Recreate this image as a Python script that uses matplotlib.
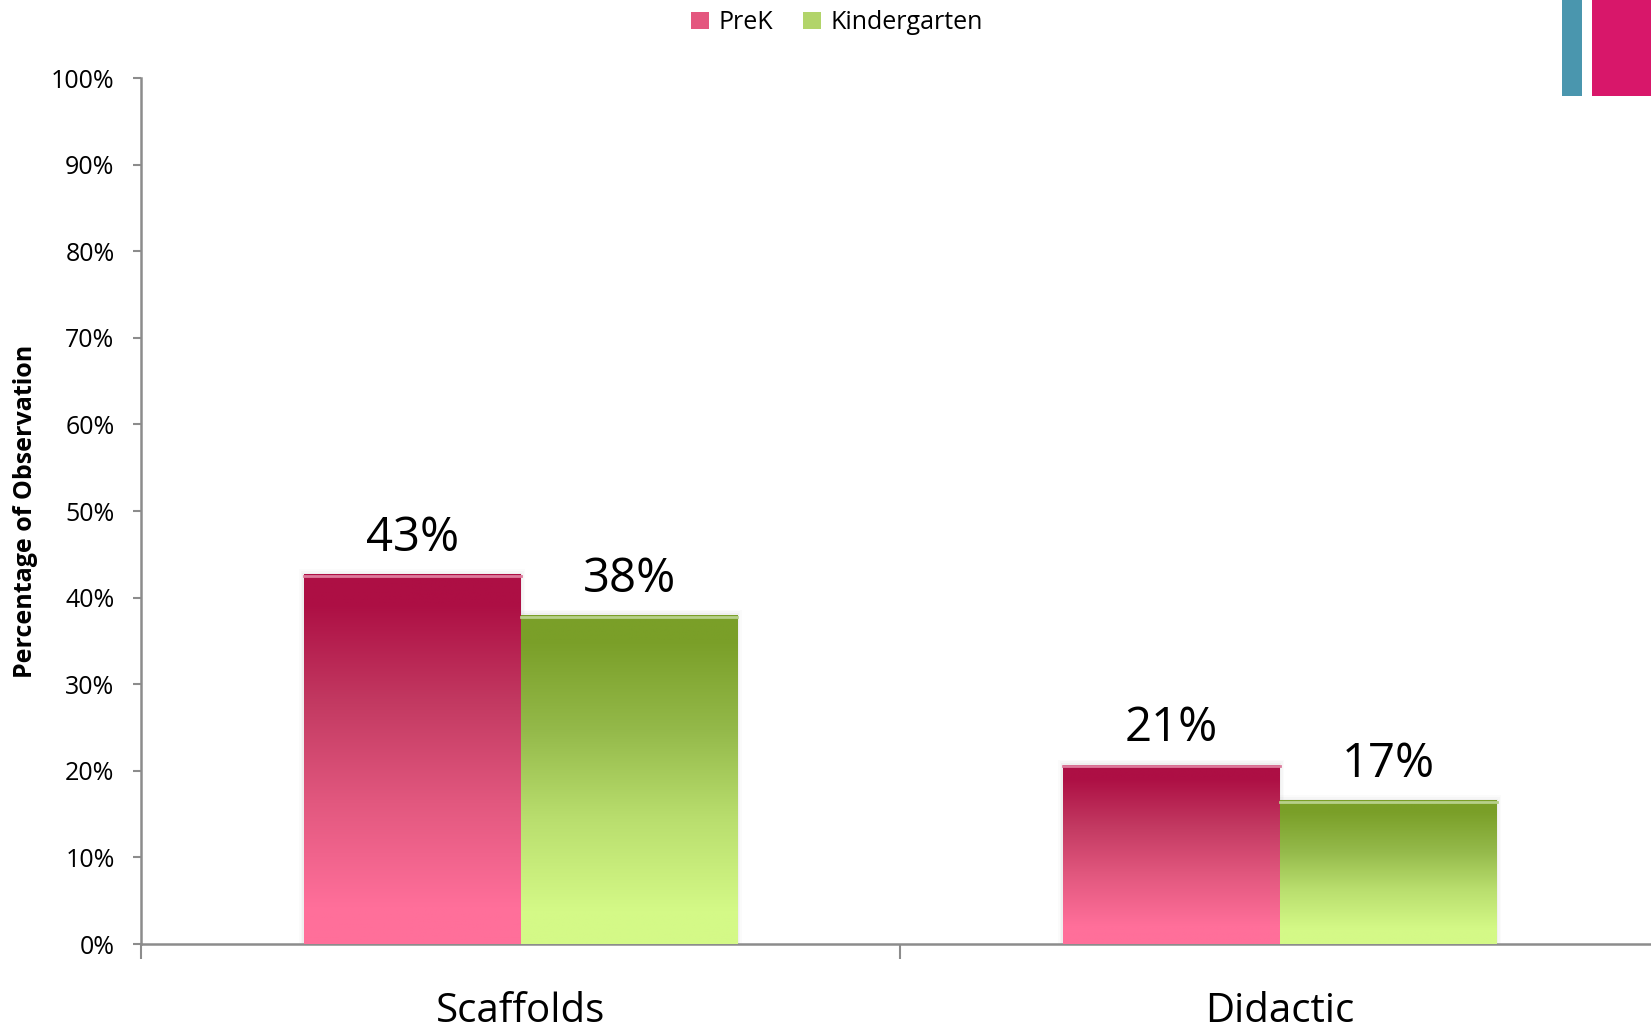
import numpy as np
import matplotlib.pyplot as plt
from matplotlib.patches import Rectangle
from matplotlib.colors import LinearSegmentedColormap

plt.rcParams['font.family'] = ['Open Sans', 'DejaVu Sans']

categories = ['Scaffolds', 'Didactic']
series = ['PreK', 'Kindergarten']
prek = [0.427, 0.207]
kinder = [0.380, 0.166]
yticks = np.arange(0, 1.01, 0.1)

# gradient colours, top -> bottom
grad_colors = {
    'PreK': ['#ad0f44', '#ad0f44', '#c33a62', '#e2587f', '#ff6f9a', '#ff6f9a'],
    'Kindergarten': ['#7a9f28', '#7a9f28', '#94b94a', '#b9de6e', '#d4f987', '#d4f987'],
}
edge_light = {'PreK': '#dd7b9c', 'Kindergarten': '#b7d08a'}


def make_cmap(name):
    cols = grad_colors[name]
    stops = [0.0, 0.08, 0.35, 0.62, 0.9, 1.0]
    return LinearSegmentedColormap.from_list(name, list(zip(stops, cols)))


fig = plt.figure(figsize=(16.51, 10.28), dpi=100)
ax = fig.add_axes([0.0854, 0.0817, 0.9196, 0.8424])

width = 0.2857
x = np.arange(len(categories))
grad = np.linspace(0, 1, 256).reshape(-1, 1)

for vals, name, off in [(prek, 'PreK', -width / 2), (kinder, 'Kindergarten', width / 2)]:
    cmap = make_cmap(name)
    bars = ax.bar(x + off, vals, width, color='none', edgecolor='none', zorder=2)
    for b, v in zip(bars, vals):
        x0 = b.get_x()
        # soft shadow
        for k, a in enumerate([0.05, 0.04, 0.03]):
            ax.add_patch(Rectangle((x0 - 0.002 * (k + 1), 0), width + 0.004 * (k + 1), v + 0.002 * (k + 1),
                                   facecolor='#888888', alpha=a, edgecolor='none', zorder=1))
        im = ax.imshow(grad, cmap=cmap, aspect='auto', extent=[x0, x0 + width, 0, v],
                       origin='upper', zorder=3)
        im.set_clip_path(b)
        ax.plot([x0, x0 + width], [v - 0.002, v - 0.002], color=edge_light[name], lw=2, zorder=4)
        ax.annotate(f'{v * 100:.0f}%', (x0 + width / 2, v), xytext=(0, 26),
                    textcoords='offset points', ha='center', va='center',
                    fontsize=34, color='black')

ax.set_xlim(-0.5, 1.5)
ax.set_ylim(0, 1)
ax.set_yticks(yticks)
ax.set_yticklabels([f'{t * 100:.0f}%' for t in yticks], fontsize=18)
ax.set_xticks(x)
ax.set_xticklabels(categories, fontsize=29)
ax.set_xticks([-0.5, 0.5, 1.5], minor=True)
ax.tick_params(axis='x', which='major', length=0, pad=34)
ax.tick_params(axis='x', which='minor', length=11, width=1.5, color='#8c8c8c', direction='out')
ax.tick_params(axis='y', length=6, width=1.5, color='#8c8c8c', pad=13)
for s in ['top', 'right']:
    ax.spines[s].set_visible(False)
for s in ['left', 'bottom']:
    ax.spines[s].set_color('#8c8c8c')
    ax.spines[s].set_linewidth(1.8)
ax.spines['left'].set_bounds(0, 1)
ax.set_ylabel('Percentage of Observation', fontsize=18, fontweight='bold', labelpad=9)

# legend with solid approximations of the gradient
handles = [Rectangle((0, 0), 1, 1, facecolor='#e4577f'), Rectangle((0, 0), 1, 1, facecolor='#b2d46a')]
fig.legend(handles, series, loc='center', bbox_to_anchor=(0.507, 0.978), ncol=2, frameon=False,
           fontsize=18, handlelength=0.7, handleheight=0.7, handletextpad=0.4, columnspacing=1.2)

# decorative blocks in top right corner
fig.patches.append(Rectangle((0.946, 0.9066), 0.0121, 0.1, transform=fig.transFigure,
                             facecolor='#4a96ae', edgecolor='none'))
fig.patches.append(Rectangle((0.9643, 0.9066), 0.0357, 0.1, transform=fig.transFigure,
                             facecolor='#d8176a', edgecolor='none'))

fig.savefig('out.png', dpi=100)
